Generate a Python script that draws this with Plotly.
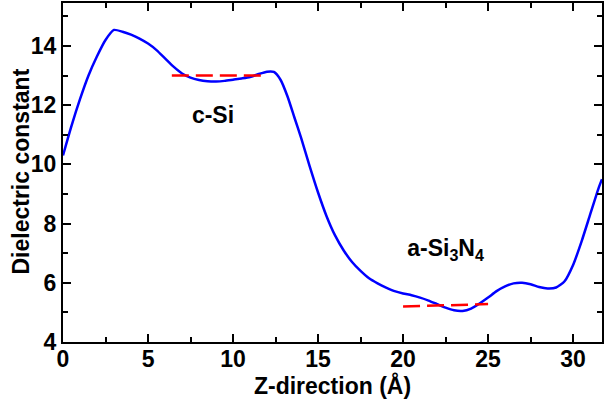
import plotly.graph_objects as go

# Dielectric profile along the stacking direction
z_pos = [0.0, 0.5, 1.0, 1.5, 2.0, 2.5, 3.0, 3.5, 4.0, 4.5, 5.0, 5.5, 6.0, 6.5, 7.0,
         7.5, 8.0, 8.5, 9.0, 9.5, 10.0, 10.5, 11.0, 11.5, 12.0, 12.4, 12.8, 13.2,
         13.6, 14.0, 14.5, 15.0, 15.5, 16.0, 16.5, 17.0, 17.5, 18.0, 18.5, 19.0,
         19.5, 20.0, 20.5, 21.0, 21.5, 22.0, 22.5, 23.0, 23.5, 24.0, 24.5, 25.0,
         25.5, 26.0, 26.5, 27.0, 27.5, 28.0, 28.5, 29.0, 29.5, 30.0, 30.5, 31.0,
         31.5, 31.7]
epsilon = [10.3, 11.3, 12.2, 13.0, 13.65, 14.2, 14.54, 14.48, 14.38, 14.25, 14.08,
           13.86, 13.58, 13.3, 13.07, 12.93, 12.85, 12.81, 12.8, 12.82, 12.86, 12.9,
           12.95, 13.05, 13.13, 13.12, 12.85, 12.3, 11.6, 10.9, 9.95, 9.05, 8.25,
           7.6, 7.1, 6.7, 6.4, 6.15, 5.98, 5.84, 5.72, 5.64, 5.58, 5.5, 5.4, 5.28,
           5.16, 5.07, 5.05, 5.13, 5.3, 5.5, 5.72, 5.88, 5.98, 6.0, 5.95, 5.86,
           5.81, 5.84, 6.05, 6.6, 7.4, 8.3, 9.2, 9.5]

# Bulk averages for the two regions
csi_z = [6.4, 12.0]
csi_eps = [13.0, 13.0]
sin_z = [20.0, 25.0]
sin_eps = [5.2, 5.28]

region_labels = ["c-Si", "a-Si<sub>3</sub>N<sub>4</sub>"]
label_z = [8.82, 22.5]
label_eps = [11.6, 7.1]

x_ticks = [0, 5, 10, 15, 20, 25, 30]
y_ticks = [4, 6, 8, 10, 12, 14]

font_family = "Liberation Sans, Arial, sans-serif"
big_font = dict(family=font_family, size=23, color="black", weight="bold")

fig = go.Figure()
fig.add_trace(go.Scatter(x=z_pos, y=epsilon, mode="lines",
                         line=dict(color="#0000ff", width=2.5, shape="spline", smoothing=0.6),
                         hoverinfo="skip"))
fig.add_trace(go.Scatter(x=csi_z, y=csi_eps, mode="lines",
                         line=dict(color="#ff0000", width=2.5, dash="17px,7px")))
fig.add_trace(go.Scatter(x=sin_z, y=sin_eps, mode="lines",
                         line=dict(color="#ff0000", width=2.5, dash="17px,7px")))
fig.add_trace(go.Scatter(x=label_z, y=label_eps, mode="text", text=region_labels,
                         textfont=big_font))

axis_common = dict(
    showline=True, linecolor="black", linewidth=2, mirror="ticks",
    ticks="inside", ticklen=8, tickwidth=2, tickcolor="black",
    showgrid=False, zeroline=False,
    tickfont=big_font,
)

fig.update_xaxes(range=[0, 31.7], tickvals=x_ticks, ticklabelstandoff=-5,
                 minor=dict(dtick=2.5, ticks="inside", ticklen=5, tickwidth=2, tickcolor="black"),
                 title=dict(text="Z-direction (Å)", standoff=0, font=big_font),
                 **axis_common)
fig.update_yaxes(range=[4, 15.45], tickvals=y_ticks,
                 minor=dict(dtick=1, ticks="inside", ticklen=5, tickwidth=2, tickcolor="black"),
                 **axis_common)

# Vertical axis title placed as a rotated annotation
fig.add_annotation(text="Dielectric constant", textangle=-90, showarrow=False,
                   xref="paper", x=0, xshift=-43, xanchor="center",
                   yref="paper", y=0.5, yshift=1, yanchor="middle",
                   font=big_font)

fig.update_layout(width=605, height=400, showlegend=False,
                  plot_bgcolor="white", paper_bgcolor="white",
                  margin=dict(l=63, r=1, t=3, b=58))

fig.write_html("out.html")
